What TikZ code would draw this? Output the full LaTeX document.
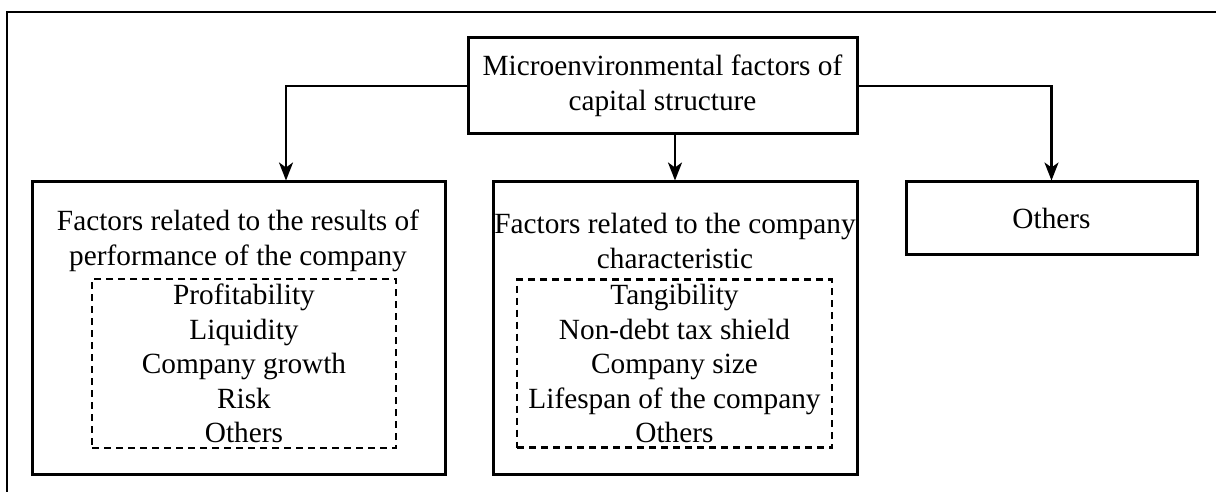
\documentclass[tikz,border=0pt]{standalone}
\usepackage{fontspec}
\setmainfont{Liberation Serif}
\usetikzlibrary{arrows.meta}
\begin{document}
\begin{tikzpicture}[x=1pt,y=-1pt,
  every node/.style={font=\fontsize{29.3}{34.5}\selectfont, inner sep=0pt, align=center},
  box/.style={draw, line width=3pt, rectangle},
  dashbox/.style={draw, line width=2.8pt, dash pattern=on 7pt off 5pt},
  link/.style={line width=2.6pt, -{Stealth[length=18pt,width=14pt,inset=5pt]}},
]
\useasboundingbox (0,0) rectangle (1216,492);
% open outer frame
\draw[line width=2.4pt] (7,500) -- (7,12) -- (1225,12);

% root
\node[box, minimum width=389pt, minimum height=96pt] (top) at (662.5,86)
  {Microenvironmental factors of\\capital structure};

% first level boxes
\node[box, minimum width=413pt, minimum height=292pt] (left) at (238.5,328) {};
\node[box, minimum width=364pt, minimum height=292pt] (mid) at (675,328) {};
\node[box, minimum width=291pt, minimum height=72pt] (right) at (1051.5,218) {Others};

% titles
\node (lefttitle) at (238,241) {Factors related to the results of\\performance of the company};
\node (midtitle) at (675,241) {Factors related to the company\\characteristic};

% dashed lists
\node[dashbox, minimum width=304pt, minimum height=169pt] (leftlist) at (244,363.5)
  {Profitability\\Liquidity\\Company growth\\Risk\\Others};
\node[dashbox, minimum width=315pt, minimum height=168pt] (midlist) at (674.5,363.5)
  {Tangibility\\Non-debt tax shield\\Company size\\Lifespan of the company\\Others};

% connectors
\draw[link] (top.west) -| ([xshift=47.5pt]left.north);
\draw[link] (top.south -| mid.north) -- (mid.north);
\draw[link] (top.east) -| (right.north);
\end{tikzpicture}
\end{document}
